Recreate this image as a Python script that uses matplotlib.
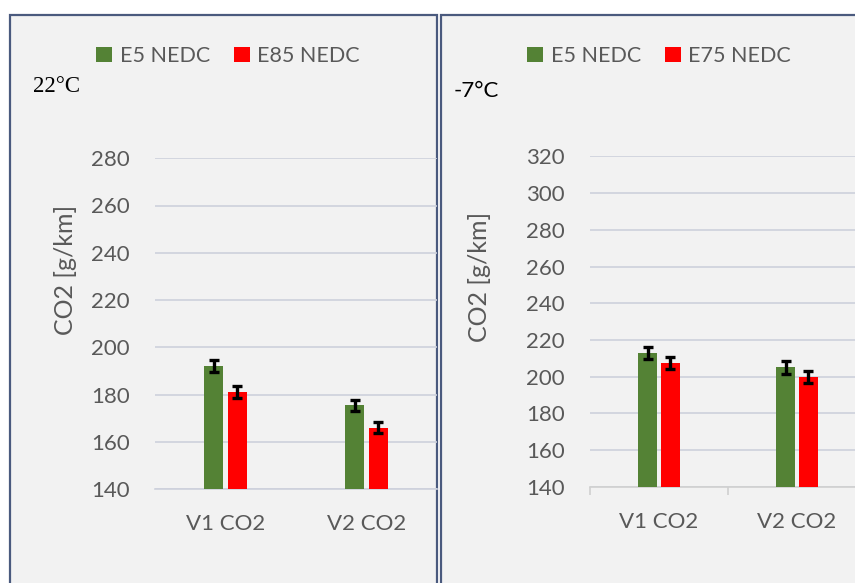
import matplotlib
matplotlib.use("Agg")
import matplotlib.pyplot as plt
from matplotlib.patches import Rectangle, Patch
import numpy as np

categories = ["V1 CO2", "V2 CO2"]

left_title = "22°C"
left_series = ["E5 NEDC", "E85 NEDC"]
left_e5 = [192, 175.5]
left_e5_err = [2.5, 2.3]
left_e85 = [181, 166]
left_e85_err = [2.6, 2.4]
left_yticks = [140, 160, 180, 200, 220, 240, 260, 280]

right_title = "-7°C"
right_series = ["E5 NEDC", "E75 NEDC"]
right_e5 = [213, 205]
right_e5_err = [3.3, 3.6]
right_e75 = [207.5, 200]
right_e75_err = [3.3, 3.3]
right_yticks = [140, 160, 180, 200, 220, 240, 260, 280, 300, 320]

GREEN = "#548235"
RED = "#FF0000"
TXT = "#595959"
GRID = "#CDD1DC"
FRAME = "#4A5A7E"
PANEL = "#F2F2F2"
FONT = "Lato"

W, H = 855, 583
fig = plt.figure(figsize=(W / 100, H / 100), dpi=100, facecolor="white")


def px(x0, y0, x1, y1):
    return [x0 / W, 1 - y1 / H, (x1 - x0) / W, (y1 - y0) / H]


# panel backgrounds
for (x0, x1) in [(9.5, 437), (440.5, 870)]:
    fig.patches.append(Rectangle((x0 / W, -0.05), (x1 - x0) / W, 1 - 14.5 / H + 0.05,
                                 transform=fig.transFigure, facecolor=PANEL,
                                 edgecolor=FRAME, linewidth=1.6, zorder=-5))


def draw(ax, s1, e1, s2, e2, yticks, ylab_x, ylab_y, show_xaxis):
    x = np.arange(len(categories))
    w = 0.135
    off = 0.082
    ax.bar(x - off, s1, w, color=GREEN, zorder=3)
    ax.bar(x + off, s2, w, color=RED, zorder=3)
    ekw = dict(fmt="none", ecolor="black", elinewidth=2.4, capsize=3.6, capthick=2.4, zorder=4)
    ax.errorbar(x - off, s1, yerr=e1, **ekw)
    ax.errorbar(x + off, s2, yerr=e2, **ekw)
    ax.set_xlim(-0.5, len(categories) - 0.5)
    ax.set_ylim(yticks[0], yticks[-1])
    ax.set_yticks(yticks)
    ax.set_yticklabels([str(v) for v in yticks], fontsize=16, color=TXT, family=FONT)
    ax.set_xticks(x)
    ax.set_xticklabels(categories, fontsize=16, color=TXT, family=FONT)
    ax.tick_params(axis="y", length=0, pad=18)
    ax.tick_params(axis="x", length=0, pad=18)
    ax.grid(axis="y", color=GRID, linewidth=1.2, zorder=0)
    ax.set_axisbelow(True)
    for s in ["top", "right", "left"]:
        ax.spines[s].set_visible(False)
    ax.spines["bottom"].set_color(GRID if not show_xaxis else "#D0D0D0")
    ax.spines["bottom"].set_linewidth(1.2)
    if show_xaxis:
        ax.set_xticks(np.arange(-0.5, len(categories), 1.0), minor=True)
        ax.tick_params(axis="x", which="minor", length=6, color="#D0D0D0", width=1.2)
    ax.set_facecolor("none")
    ax.set_ylabel("CO2 [g/km]", fontsize=18, color=TXT, family=FONT)
    ax.yaxis.set_label_coords(ylab_x, ylab_y, transform=fig.transFigure)


axL = fig.add_axes(px(155, 158.2, 437, 489.3))
draw(axL, left_e5, left_e5_err, left_e85, left_e85_err, left_yticks, 77 / W, 1 - 270 / H, False)
axR = fig.add_axes(px(590, 156.4, 866, 486.7))
draw(axR, right_e5, right_e5_err, right_e75, right_e75_err, right_yticks, 491 / W, 1 - 277 / H, True)

for names, cx in [(left_series, 228), (right_series, 659)]:
    handles = [Patch(facecolor=GREEN), Patch(facecolor=RED)]
    fig.legend(handles, names, loc="center", bbox_to_anchor=(cx / W, 1 - 56 / H),
               ncol=2, frameon=False, labelcolor=TXT,
               prop={"family": FONT, "size": 15.5},
               handlelength=0.75, handleheight=0.75, handletextpad=0.35, columnspacing=1.1)

fig.text(33 / W, 1 - 87 / H, left_title, fontsize=16.5, color="black",
         family="Liberation Serif", ha="left", va="center")
fig.text(454 / W, 1 - 91 / H, right_title, fontsize=16, color="black",
         family=FONT, ha="left", va="center")

fig.savefig("out.png", dpi=100, facecolor="white")
